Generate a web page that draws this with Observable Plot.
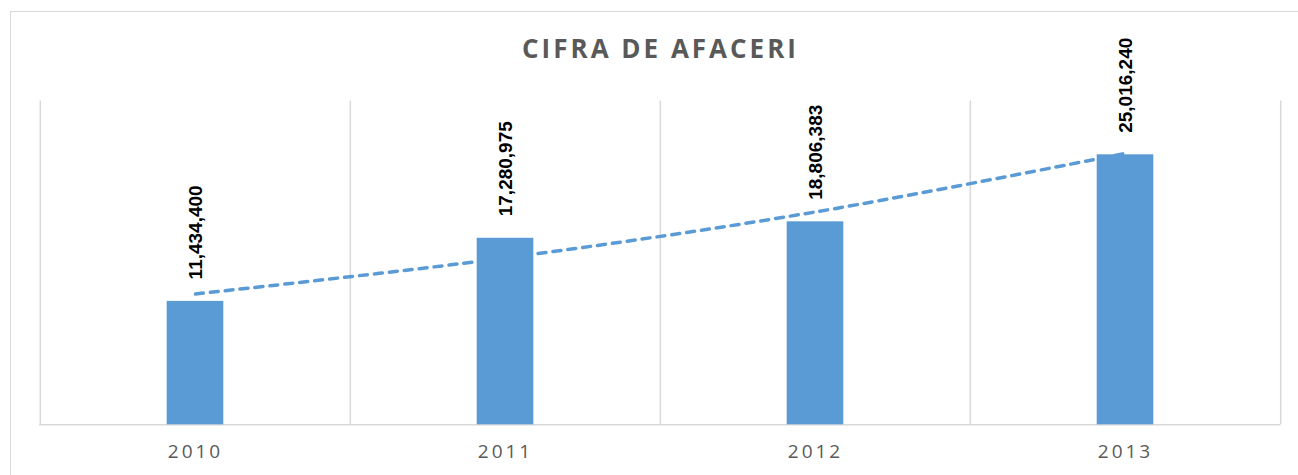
<!DOCTYPE html>
<html>
<head>
<meta charset="utf-8">
<script src="https://cdn.jsdelivr.net/npm/d3@7"></script>
<script src="https://cdn.jsdelivr.net/npm/@observablehq/plot@0.6"></script>
<style>
  html, body { margin: 0; padding: 0; background: #fff; overflow: hidden; }
  #wrap { position: relative; width: 1298px; height: 475px; overflow: hidden; }
  #box { position: absolute; left: 10px; top: 11px; width: 1320px; height: 520px;
         border: 1.5px solid #d9d9d9; box-sizing: border-box; }
  #title { position: absolute; top: 33px; left: 659px; transform: translateX(-50%);
           font-family: "Open Sans", sans-serif; font-weight: 700; font-size: 26px;
           letter-spacing: 3px; padding-left: 3px; color: #595959; white-space: nowrap; line-height: 1.2; }
  #chart { position: absolute; left: 0; top: 0; }
  #chart svg [aria-label="x-axis tick label"] text { letter-spacing: 3px; }
</style>
</head>
<body>
<div id="wrap">
  <div id="box"></div>
  <div id="chart"></div>
  <div id="title">CIFRA DE AFACERI</div>
</div>
<script>
const years = ["2010", "2011", "2012", "2013"];
const values = [11434400, 17280975, 18806383, 25016240];
const yTicks = [0, 30000000];

const data = years.map((year, i) => ({year, value: values[i], i}));

// Exponential trendline (least squares on log values, as in the spreadsheet)
const n = values.length;
const xs = values.map((_, i) => i + 1);
const ls = values.map(v => Math.log(v));
const mx = d3.mean(xs), ml = d3.mean(ls);
const b = d3.sum(xs.map((x, i) => (x - mx) * (ls[i] - ml))) / d3.sum(xs.map(x => (x - mx) ** 2));
const a = ml - b * mx;
const trend = years.map((year, i) => ({year, value: Math.exp(a + b * (i + 1))}));

const W = 1298, H = 475;
const mL = 39, mR = 17.5, mT = 100.5, mB = 50.7;
const step = (W - mL - mR) / years.length;
const barW = 57;
const inset = (step - barW) / 2;

const color = "#5B9BD5";
const grid = "#d9d9d9";

const plot = Plot.plot({
  width: W,
  height: H,
  marginLeft: mL,
  marginRight: mR,
  marginTop: mT,
  marginBottom: mB,
  style: {background: "transparent", overflow: "visible"},
  x: {domain: years, padding: 0, align: 0.5},
  y: {domain: [yTicks[0], yTicks[1]], axis: null},
  marks: [
    Plot.ruleX(years, {x: d => d, y1: yTicks[0], y2: yTicks[1], dx: -step / 2, stroke: grid, strokeWidth: 1.5}),
    Plot.ruleX([years[years.length - 1]], {x: d => d, y1: yTicks[0], y2: yTicks[1], dx: step / 2, stroke: grid, strokeWidth: 1.5}),
    Plot.ruleY([0], {stroke: grid, strokeWidth: 1.5}),
    Plot.barY(data, {x: "year", y: "value", fill: color, insetLeft: inset, insetRight: inset}),
    Plot.line(trend, {x: "year", y: "value", stroke: color, strokeWidth: 3.5,
      strokeDasharray: "8,7", strokeLinecap: "round", curve: "catmull-rom"}),
    Plot.text(data, {x: "year", y: "value", text: d => d3.format(",")(d.value),
      rotate: -90, textAnchor: "start", dy: -22, fill: "#000",
      fontFamily: "Liberation Sans, Arial, sans-serif", fontWeight: "bold", fontSize: 19}),
    Plot.axisX({tickSize: 0, tickPadding: 20, fontSize: 19, fill: "#595959",
      fontFamily: "Open Sans, sans-serif", label: null})
  ]
});
document.getElementById("chart").appendChild(plot);
</script>
</body>
</html>
